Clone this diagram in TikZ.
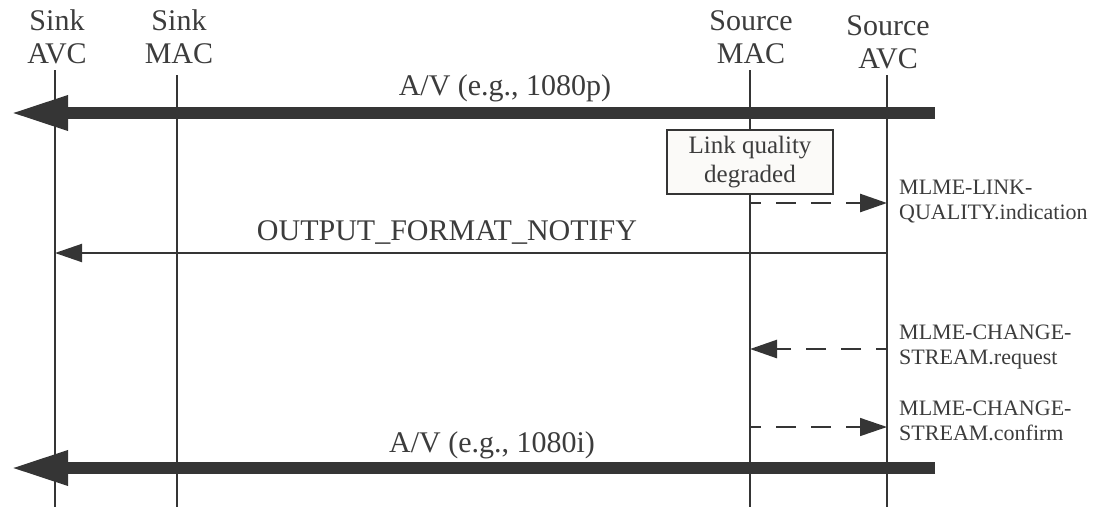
\documentclass[tikz,border=0pt]{standalone}
\usepackage{fontspec}
\setmainfont{Liberation Serif}
\usetikzlibrary{arrows.meta}
\definecolor{ink}{HTML}{353535}
\definecolor{txt}{HTML}{3C3C3C}
\definecolor{boxfill}{HTML}{FBFAF8}
\begin{document}
\begin{tikzpicture}[x=1pt,y=-1pt,
  head/.style={font=\fontsize{30}{33}\selectfont, text=txt, align=center, inner sep=0pt},
  msglabel/.style={font=\fontsize{30}{33}\selectfont, text=txt, inner sep=0pt, anchor=base},
  smalllabel/.style={font=\fontsize{22}{25}\selectfont, text=txt, align=left, inner sep=0pt, anchor=west},
  lifeline/.style={draw=ink, line width=2.2pt},
  thinlife/.style={draw=ink, line width=1.4pt},
  bigmsg/.style={draw=ink, line width=12pt, -{Triangle[length=58pt,width=32pt]}},
  solidmsg/.style={draw=ink, line width=2pt, -{Triangle[length=27pt,width=18pt]}},
  dashmsg/.style={draw=ink, line width=2.6pt, dash pattern=on 20pt off 15pt, dash phase=9pt, -{Triangle[length=27pt,width=18pt]}},
  thindash/.style={draw=ink, line width=1.5pt, dash pattern=on 20pt off 15pt, dash phase=9pt, -{Triangle[length=27pt,width=18pt]}},
  notebox/.style={draw=ink, line width=2pt, fill=boxfill, minimum width=166pt, minimum height=64pt, inner sep=0pt, align=center, text=txt, font=\fontsize{25}{29}\selectfont}
]
\useasboundingbox (0,0) rectangle (1099,507);

% headers
\node[head] (hsa) at (57,37) {Sink\\AVC};
\node[head] (hsm) at (179,37) {Sink\\MAC};
\node[head] (hrm) at (751,37) {Source\\MAC};
\node[head] (hra) at (888,42) {Source\\AVC};

% lifeline ends
\coordinate (saT) at (55,70);  \coordinate (saB) at (55,507);
\coordinate (smT) at (177,75); \coordinate (smB) at (177,507);
\coordinate (rmT) at (750,70); \coordinate (rmB) at (750,507);
\coordinate (raT) at (887,75); \coordinate (raB) at (887,507);

\draw[lifeline] (saT) -- (saB);
\draw[thinlife] (smT) -- (smB);
\draw[lifeline] (rmT) -- (rmB);
\draw[lifeline] (raT) -- (raB);

% A/V top
\coordinate (av1s) at (935,113); \coordinate (av1e) at (10,113);
\draw[bigmsg] (av1s) -- (av1e);
\node[msglabel] (av1l) at (505,95) {A/V (e.g., 1080p)};

% link quality box
\node[notebox] (lq) at (750,162) {Link quality\\degraded};

% MLME-LINK-QUALITY.indication
\coordinate (lqs) at (750,203); \coordinate (lqe) at (887,203);
\draw[dashmsg] (lqs) -- (lqe);
\node[smalllabel] (lql) at (899,202) {MLME-LINK-\\QUALITY.indication};

% OUTPUT_FORMAT_NOTIFY
\coordinate (ofs) at (887,253); \coordinate (ofe) at (55,253);
\draw[solidmsg] (ofs) -- (ofe);
\node[msglabel] (ofl) at (447,240) {OUTPUT\_FORMAT\_NOTIFY};

% MLME-CHANGE-STREAM.request
\coordinate (rqs) at (887,349); \coordinate (rqe) at (750,349);
\draw[dashmsg] (rqs) -- (rqe);
\node[smalllabel] (rql) at (899,347) {MLME-CHANGE-\\STREAM.request};

% MLME-CHANGE-STREAM.confirm
\coordinate (cfs) at (750,427); \coordinate (cfe) at (887,427);
\draw[thindash] (cfs) -- (cfe);
\node[smalllabel] (cfl) at (899,421) {MLME-CHANGE-\\STREAM.confirm};

% A/V bottom
\coordinate (av2s) at (935,468); \coordinate (av2e) at (10,468);
\draw[bigmsg] (av2s) -- (av2e);
\node[msglabel] (av2l) at (492,452) {A/V (e.g., 1080i)};
\end{tikzpicture}
\end{document}
